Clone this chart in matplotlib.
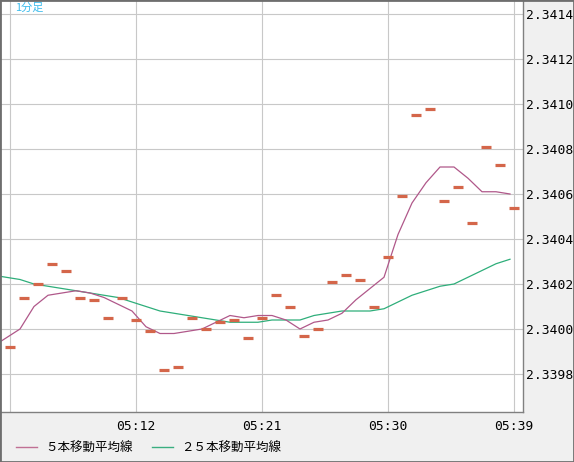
import matplotlib

matplotlib.use("Agg")

import matplotlib.pyplot as plt
from matplotlib.lines import Line2D
from matplotlib.patches import Rectangle
import numpy as np

# 1-minute closes, 05:03 .. 05:39
closes = [2.33992, 2.34014, 2.34020, 2.34029, 2.34026, 2.34014, 2.34013, 2.34005,
          2.34014, 2.34004, 2.33999, 2.33982, 2.33983, 2.34005, 2.34000, 2.34003,
          2.34004, 2.33996, 2.34005, 2.34015, 2.34010, 2.33997, 2.34000, 2.34021,
          2.34024, 2.34022, 2.34010, 2.34032, 2.34059, 2.34095, 2.34098, 2.34057,
          2.34063, 2.34047, 2.34081, 2.34073, 2.34054]

# moving averages, one value per bar from 05:02 .. 05:39
ma5 = [2.33992, 2.33996, 2.34000, 2.34010, 2.34015, 2.34016, 2.34017, 2.34016,
       2.34014, 2.34011, 2.34008, 2.34001, 2.33998, 2.33998, 2.33999, 2.34000,
       2.34003, 2.34006, 2.34005, 2.34006, 2.34006, 2.34004, 2.34000, 2.34003,
       2.34004, 2.34007, 2.34013, 2.34018, 2.34023, 2.34042, 2.34056, 2.34065,
       2.34072, 2.34072, 2.34067, 2.34061, 2.34061, 2.34060]
ma25 = [2.34024, 2.34023, 2.34022, 2.34020, 2.34019, 2.34018, 2.34017, 2.34016,
        2.34015, 2.34014, 2.34012, 2.34010, 2.34008, 2.34007, 2.34006, 2.34005,
        2.34004, 2.34003, 2.34003, 2.34003, 2.34004, 2.34004, 2.34004, 2.34006,
        2.34007, 2.34008, 2.34008, 2.34008, 2.34009, 2.34012, 2.34015, 2.34017,
        2.34019, 2.34020, 2.34023, 2.34026, 2.34029, 2.34031]

xtick_pos = [0, 9, 18, 27, 36]
xtick_labels = ["", "05:12", "05:21", "05:30", "05:39"]
yticks = [2.3398, 2.3400, 2.3402, 2.3404, 2.3406, 2.3408, 2.3410, 2.3412, 2.3414]

W, H = 574, 462
fig = plt.figure(figsize=(W / 100, H / 100), dpi=100)
fig.patch.set_facecolor("#f0f0f0")
ax = fig.add_axes([1 / W, 50 / H, 522 / W, 411 / H])
ax.set_facecolor("white")

xb = np.arange(len(closes))
xm = np.arange(-1, len(closes)) - 4 / 14

ax.plot(xm, ma25, color="#2eae7a", lw=0.9, zorder=3)
ax.plot(xm, ma5, color="#b0588a", lw=0.9, zorder=3)
ax.plot(xb, closes, ls="none", marker="_", ms=7.4, mew=2.3,
        color="#d4664a", zorder=4)

ax.set_xlim(-9 / 14, 513 / 14)
ax.set_ylim(2.3414 - 398 * 0.0002 / 45, 2.3414 + 13 * 0.0002 / 45)
ax.set_xticks(xtick_pos)
ax.set_xticklabels(xtick_labels)
ax.set_yticks(yticks)
ax.set_yticklabels([f"{v:.4f}" for v in yticks])
ax.yaxis.tick_right()
ax.tick_params(length=0, labelsize=9.4, labelcolor="black")
ax.tick_params(axis="y", pad=2.5)
ax.tick_params(axis="x", pad=5.5)
for lab in ax.get_xticklabels() + ax.get_yticklabels():
    lab.set_family("DejaVu Sans Mono")
ax.grid(True, color="#c8c8c8", lw=0.8)
ax.set_axisbelow(True)
for side in ("top", "left"):
    ax.spines[side].set_visible(False)
for side in ("right", "bottom"):
    ax.spines[side].set_color("#808080")
    ax.spines[side].set_linewidth(1.0)

fig.text(15 / W, 1 - 3 / H, "1分足", color="#3cbcec", fontsize=8,
         family=["Noto Sans CJK JP", "DejaVu Sans"], va="top", ha="left")

handles = [Line2D([], [], color="#c07094", lw=1.0),
           Line2D([], [], color="#3aae80", lw=1.0)]
fig.legend(handles, ["５本移動平均線", "２５本移動平均線"], ncol=2,
           loc="center left", bbox_to_anchor=(16 / W, 14 / H),
           frameon=False, borderpad=0, borderaxespad=0,
           handlelength=1.7, handletextpad=0.65, columnspacing=1.5,
           prop={"family": ["Noto Sans CJK JP", "DejaVu Sans"], "size": 9})

fig.add_artist(Rectangle((0, 0), 1, 1, transform=fig.transFigure, fill=False,
                         edgecolor="#6e6e6e", lw=2.0))

fig.savefig("out.png", dpi=100, facecolor=fig.get_facecolor())
